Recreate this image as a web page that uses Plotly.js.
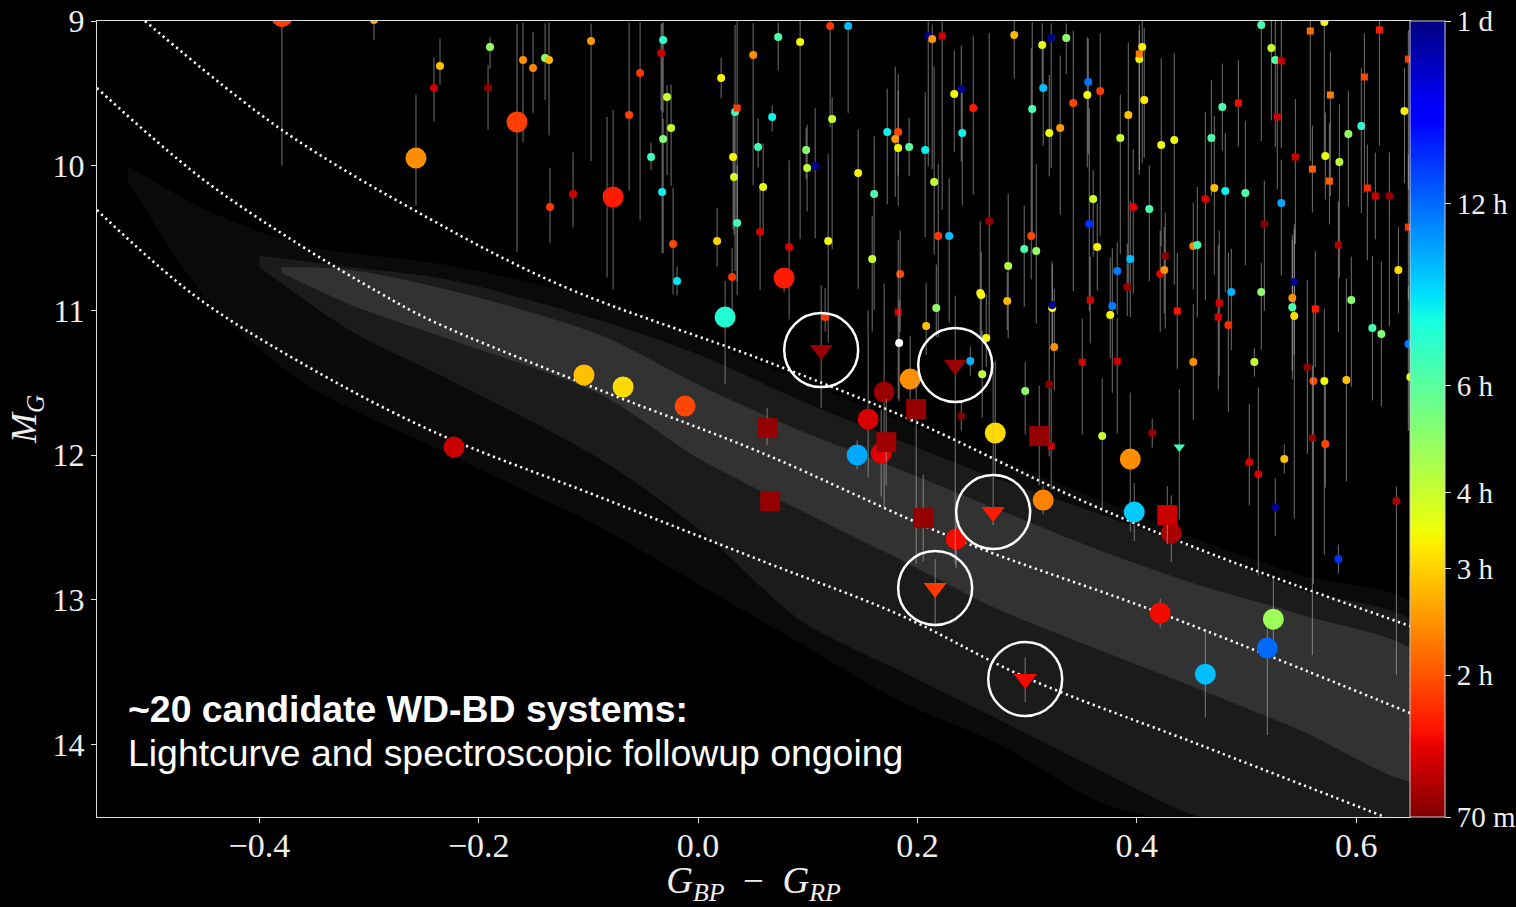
<!DOCTYPE html>
<html><head><meta charset="utf-8">
<script src="https://cdn.plot.ly/plotly-3.0.1.min.js"></script>
<style>html,body{margin:0;padding:0;background:#000;}#plot{width:1516px;height:907px;}</style>
</head><body><div id="plot"></div>
<script>
// ---------- reference curves (G_BP-G_RP, M_G) ----------
const upperX = [-0.5043,-0.3794,-0.2444,-0.1259,0.0593,0.1906,0.3529,0.4706,0.6493];
const upperY = [9.000,9.753,10.368,10.824,11.343,11.744,12.324,12.690,13.181];
const middleX = [-0.5481,-0.4542,-0.3630,-0.2900,-0.2444,-0.0894,0.0565,0.2353,0.4213,0.6493];
const middleY = [9.463,10.078,10.548,10.880,11.066,11.550,11.979,12.580,13.091,13.782];
const lowerX = [-0.5481,-0.4596,-0.3630,-0.2426,-0.0894,0.0611,0.1842,0.2982,0.4578,0.6265];
const lowerY = [10.306,10.894,11.357,11.833,12.290,12.739,13.105,13.534,14.003,14.501];

// ---------- background WD sequence density (band edges) ----------
const outerX   = [-0.52,-0.45,-0.36,-0.226,-0.089,0.002,0.093,0.184,0.275,0.367,0.458,0.549,0.66];
const outerTop = [10.00,10.30,10.55,10.69,10.93,11.20,11.48,11.76,12.03,12.31,12.59,12.83,13.07];
const outerBot = [10.10,10.90,11.50,12.00,12.50,12.90,13.30,13.70,14.00,14.40,14.55,14.55,14.55];
const midX   = [-0.40,-0.317,-0.226,-0.089,0.002,0.093,0.184,0.275,0.367,0.458,0.549,0.66];
const midTop = [10.62,10.70,10.79,11.07,11.31,11.62,11.90,12.17,12.41,12.66,12.93,13.20];
const midBot = [10.70,11.14,11.48,12.03,12.52,13.14,13.49,13.83,14.18,14.50,14.55,14.55];
const coreX   = [-0.38,-0.317,-0.226,-0.089,0.002,0.093,0.184,0.275,0.367,0.458,0.549,0.66];
const coreTop = [10.70,10.72,10.86,11.17,11.52,11.83,12.10,12.38,12.66,12.90,13.10,13.40];
const coreBot = [10.74,10.96,11.20,11.58,12.03,12.38,12.72,13.07,13.35,13.62,13.90,14.25];

// ---------- small circles: colour, magnitude, period (min), errors (up / down in mag) ----------
const smallX = [-0.2955,-0.2353,-0.2408,-0.1897,-0.1915,-0.1596,-0.1505,-0.1395,-0.1359,-0.0976,-0.0319,-0.0337,-0.0529,-0.0283,-0.0246,-0.0319,-0.0429,-0.0629,-0.1140,-0.1350,-0.0830,-0.0328,-0.0228,-0.0192,0.0210,0.0337,0.0502,0.0319,0.0328,0.0356,0.0565,0.0173,0.0310,0.0547,0.0593,
0.1204,0.1368,0.0730,0.0930,0.2098,0.2134,0.2882,0.3219,0.3137,0.3356,0.2399,0.2335,0.2508,0.3146,0.3557,0.3548,0.3420,0.3046,0.3201,0.3301,0.0675,0.1222,0.1724,0.1824,0.1797,0.1824,0.1924,0.2070,0.2408,0.0985,0.0994,0.1067,0.1459,0.1605,0.2152,0.2654,0.2189,0.2289,0.0830,0.1186,0.2973,0.3083,0.3037,0.3566,0.2827,0.1587,0.1842,0.2572,0.3602,
0.5134,0.5709,0.4049,0.4022,0.5226,0.5262,0.3666,0.4067,0.3922,0.4779,0.6439,0.3849,0.4222,0.4341,0.4679,0.6046,0.5928,0.5718,0.5846,0.4706,0.4806,0.4989,0.4624,0.5317,0.6302,0.3967,0.4113,0.3639,0.3940,0.4514,0.4551,0.3821,0.4213,0.4250,0.3912,0.5435,0.4861,0.5134,0.6384,
0.1158,0.2171,0.2079,0.2581,0.2818,0.3228,0.3228,0.2627,0.3247,0.2982,0.2481,0.2590,
0.3757,0.3776,0.4834,0.5417,0.5417,0.5435,0.5955,0.6147,0.6229,0.6475,0.6493,0.4514,0.5071,0.5609,0.5709,0.5910,0.4140,0.3684,0.5718,0.5025,0.5107,0.5344,0.5262,0.6366,0.5837];
const smallY = [8.993,9.311,9.463,9.180,9.463,9.270,9.325,9.256,9.270,9.138,9.131,9.221,9.359,9.525,9.739,9.815,9.940,9.650,10.196,10.285,10.202,10.182,10.541,10.797,9.394,9.629,9.235,9.940,10.078,10.396,10.458,10.520,10.769,9.871,10.147,
9.035,9.035,9.111,9.145,9.104,9.124,9.097,9.117,9.166,9.117,9.470,9.504,9.601,9.463,9.422,9.511,9.567,9.608,9.774,9.739,9.663,9.677,9.767,9.767,9.815,9.878,9.871,9.892,9.774,9.892,10.016,10.002,10.050,10.196,10.113,10.382,10.486,10.486,10.562,10.520,10.576,10.589,10.486,10.403,10.693,10.645,10.748,10.880,10.230,
9.028,9.007,9.180,9.263,9.187,9.270,9.484,9.546,9.650,9.594,9.622,9.809,9.857,9.822,9.809,9.726,9.781,9.933,9.974,10.154,10.175,10.189,10.230,10.258,10.209,10.285,10.299,10.562,10.645,10.555,10.548,10.728,10.748,10.721,10.838,10.804,10.873,10.873,10.721,
11.046,10.983,11.108,10.894,10.935,10.983,10.963,11.191,11.253,11.557,11.350,11.440,
11.032,10.970,11.101,10.914,10.977,11.039,10.928,11.122,11.163,11.232,11.460,11.357,11.357,11.488,11.488,11.481,11.847,11.868,11.923,12.048,12.131,12.027,12.359,12.317,12.718];
const smallP = [160,170,85,290,72,145,140,300,165,150,420,85,110,240,240,310,400,112,85,110,230,480,115,500,200,400,145,205,225,410,88,180,110,390,210,
110,560,380,205,1400,150,165,1400,215,300,1400,205,100,560,700,205,115,380,210,150,480,240,480,115,150,205,360,480,480,300,250,1400,200,380,245,73,110,560,88,205,380,290,115,850,260,245,115,200,235,
380,205,200,205,240,370,110,195,170,380,200,240,210,205,380,430,290,215,250,170,480,380,88,600,74,90,380,200,560,140,390,680,90,145,74,1400,580,300,185,
110,290,170,205,165,205,1400,205,145,300,580,245,
205,680,105,145,380,185,300,390,310,680,205,145,245,118,210,170,75,240,115,88,88,170,1400,78,850];
const smallEUp = [0,0.19,0.21,0.07,0.16,0.26,0.25,0.24,0.26,0.12,0.12,0.2,0.35,0.08,0.3,0.14,0.1,0.64,0.29,0.27,0.54,1.17,0.39,0.1,0.14,0.6,0.22,0.3,0.5,0.4,0.3,0.23,0.2,0.2,0.3,
0.05,0.03,0.1,0.15,0.1,0.1,0.1,0.1,0.15,0.1,0.3,0.3,0.5,0.3,0.3,0.4,0.5,0.6,0.4,0.5,0.08,0.15,0.3,0.4,0.5,0.4,0.2,0.4,0.3,0.15,0.3,0.4,0.3,0.4,0.8,1.3,0.5,0.4,0.6,0.6,0.3,0.6,1.3,0.8,0.5,0.3,0.3,0.5,0.2,
0.05,0.05,0.2,0.2,0.2,0.3,0.4,0.5,0.5,0.3,0.3,0.3,0.6,0.6,0.4,0.4,0.3,0.3,0.4,0.5,0.4,0.5,0.6,0.3,0.3,0.4,0.3,0.3,0.4,0.3,0.4,0.2,0.3,0.3,0.3,0.4,0.3,0.2,0.3,
0.2,0.3,0.3,0.3,0.2,0.3,0.3,0.3,0.4,0.2,0.1,0.3,
0.4,0.4,0.5,0.4,0.5,0.6,0.3,0.5,0.5,0.4,0.3,0.4,0.1,0.5,0.5,0.7,0.1,0.4,0.4,0.4,0.6,0.1,0.2,0.1,0.1];
const smallEDn = [0.14,0.13,0.23,0.15,0.29,0.57,0.31,0.29,0.52,0.83,0.5,0.4,1.02,0.54,0.4,0.79,0.09,0.52,0.23,0.25,0.57,0.42,0.35,0.1,0.14,1.1,0.9,0.5,0.4,0.5,0.4,0.18,0.3,0.14,0.3,
0.7,0.6,0.23,1.36,0.9,0.9,0.3,0.9,0.3,0.25,0.5,0.4,0.6,0.4,0.5,0.5,1.3,0.9,0.3,0.6,0.1,0.9,0.5,0.3,0.4,0.4,0.2,0.6,0.5,0.2,0.3,0.5,0.8,0.8,0.5,0.8,0.7,0.6,0.5,0.7,0.4,0.5,0.3,0.6,0.5,0.5,0.4,0.3,0.4,
0.8,0.9,0.8,0.8,0.5,0.6,1.0,0.4,1.2,0.3,0.5,0.8,0.7,1.0,0.4,0.6,0.5,0.3,0.8,0.6,0.7,0.5,0.7,0.5,0.9,0.6,0.5,0.3,0.4,0.3,0.5,0.3,0.4,0.3,0.2,0.5,0.4,0.4,0.3,
0.1,0.2,0.2,0.3,0.2,0.3,0.3,0.2,0.3,0.3,0.1,0.3,
0.3,0.6,0.6,0.5,0.5,1.4,0.6,0.5,0.5,0.6,0.3,0.4,0.1,1.4,1.2,0.7,0.1,0.5,0.3,0.3,0.7,0.1,0.2,1.2,0.1];

// ---------- small squares ----------
const sqX = [0.0356,0.2225,0.5581,0.6211,0.4022,0.5317,0.6475,0.4925,0.5764,0.6074,0.5280,0.5445,0.5600,0.5755,0.6101,0.6174,0.5162,0.5837,0.6475,0.4259,0.1824,0.3575,0.3502,0.3201,0.2399,0.3219,0.4368,0.4751,0.4742,0.5627,0.3821,0.5554,0.5600];
const sqY = [9.601,9.104,9.069,9.062,9.228,9.276,9.263,9.567,9.511,9.387,9.663,9.940,10.023,10.106,10.154,10.209,10.403,10.548,10.424,10.624,11.011,10.928,11.357,11.509,11.730,11.937,11.004,10.949,11.046,10.990,11.350,11.391,11.882];
const sqP = [110,88,130,100,135,85,110,95,135,115,85,85,125,125,105,85,72,80,110,72,88,88,88,72,72,85,98,88,88,100,85,72,74];
const sqEUp = [0.6,0.1,0.1,0.1,0.2,0.3,0.2,0.3,0.3,0.3,0.4,0.4,0.3,0.4,0.3,0.3,0.3,0.3,0.5,0.3,0.5,0.3,0.3,0.5,0.1,0.4,0.4,0.5,0.5,0.4,0.3,0.6,0.5];
const sqEDn = [1.2,1.2,0.9,0.8,0.8,0.6,0.9,0.3,0.7,0.8,0.5,0.6,0.3,0.3,0.5,0.3,0.6,0.6,0.5,0.5,0.6,0.3,0.5,0.5,0.1,0.3,0.4,0.5,0.5,0.4,0.5,0.6,1.5];

// ---------- large circles (candidates) ----------
const bigX = [-0.3794,-0.2572,-0.1651,-0.0775,0.0784,0.0246,-0.2225,-0.1040,-0.0684,-0.0119,0.1696,0.1933,0.1550,0.1669,0.1450,0.2709,0.3146,0.2353,0.3940,0.3976,0.4314,0.4213,0.5244,0.5189,0.4624];
const bigY = [8.97,9.947,9.698,10.216,10.776,11.046,11.944,11.446,11.529,11.661,11.564,11.474,11.751,11.986,11.999,11.847,12.310,12.580,12.027,12.393,12.538,13.091,13.133,13.333,13.513];
const bigP = [112,145,112,100,100,440,85,170,185,115,75,145,88,90,600,185,140,95,145,540,78,95,280,720,560];
const bigEUp = [0,0.44,0.68,0.6,0.05,0.25,0.05,0,0,0,0.75,0.3,0.75,0.3,0.1,0.5,0.1,0.1,0.46,0.2,0.26,0.1,0.3,0.2,0.3];
const bigEDn = [1.03,0.33,0.9,0.64,0.1,0.46,0.05,0,0,0,0.8,0.3,0.4,0.3,0.1,0.3,0.1,0.2,0.5,0.2,0.2,0.1,0.2,0.6,0.3];

// ---------- large squares ----------
const bsqX = [0.0629,0.0657,0.1988,0.1715,0.2052,0.3110,0.4277];
const bsqY = [11.813,12.317,11.681,11.910,12.435,11.868,12.414];
const bsqP = [74,74,74,76,74,74,85];
const bsqEUp = [0.14,0,0.2,0.3,0.3,0.35,0.2];
const bsqEDn = [0.12,0.05,1.07,0.3,0.3,0.34,0.2];

// ---------- highlighted triangles ----------
const triX = [0.1122,0.2344,0.2690,0.2161,0.2982];
const triY = [11.274,11.377,12.393,12.918,13.547];
const triP = [75,75,100,110,95];
const triEUp = [0.45,0.48,1.04,0.2,0.15];
const triEDn = [0.4,1.38,0.09,0.27,0.16];

// ---------- odd ones ----------
const smTriX = [0.4387], smTriY = [11.944], smTriP = [400];
const whiteX = [0.1833], whiteY = [11.225];

// ---------- colour bar ----------
const cbPeriods = [70,120,180,240,360,720,1440];
const cbLabels = ['70 m','2 h','3 h','4 h','6 h','12 h','1 d'];
const PMIN = 70, PMAX = 1440;

// matplotlib jet, reversed (short period = dark red)
const jetR = [[0,'rgb(128,0,0)'],[0.09,'rgb(232,0,0)'],[0.11,'rgb(255,19,0)'],[0.34,'rgb(255,236,0)'],[0.35,'rgb(247,245,0)'],[0.36,'rgb(239,255,8)'],[0.625,'rgb(21,255,226)'],[0.65,'rgb(0,230,247)'],[0.66,'rgb(0,219,255)'],[0.875,'rgb(0,0,255)'],[0.89,'rgb(0,0,255)'],[1,'rgb(0,0,128)']];
const lg = a => a.map(v => Math.log10(v));

function errs(up, dn){
  return {type:'data', symmetric:false, array:dn, arrayminus:up, color:'rgba(185,185,185,0.6)', thickness:1, width:0};
}
function mk(size, symbol, periods, extra){
  return Object.assign({size:size, symbol:symbol, color:lg(periods), colorscale:jetR,
    cmin:Math.log10(PMIN), cmax:Math.log10(PMAX), line:{width:0}}, extra||{});
}
function band(xs, top, bot, alpha){
  return {x: xs.concat(xs.slice().reverse()), y: top.concat(bot.slice().reverse()),
    type:'scatter', mode:'lines', fill:'toself', fillcolor:'rgba(255,255,255,'+alpha+')',
    line:{width:0, shape:'spline', smoothing:0.8}, hoverinfo:'skip', showlegend:false};
}
function curve(xs, ys){
  return {x:xs, y:ys, type:'scatter', mode:'lines', line:{color:'#ffffff', width:2.6, dash:'2.2px,3.6px', shape:'spline'}, hoverinfo:'skip', showlegend:false};
}

const traces = [
  band(outerX, outerTop, outerBot, 0.04),
  band(midX, midTop, midBot, 0.07),
  band(coreX, coreTop, coreBot, 0.10),
  curve(upperX, upperY), curve(middleX, middleY), curve(lowerX, lowerY),
  {x:smallX, y:smallY, type:'scatter', mode:'markers', error_y:errs(smallEUp, smallEDn),
   marker:mk(8,'circle',smallP,{showscale:true, colorbar:{
     x:1, xanchor:'left', xpad:0, y:0.5, yanchor:'middle', ypad:0, len:1, lenmode:'fraction',
     thickness:35, outlinecolor:'#cccccc', outlinewidth:1,
     tickvals:lg(cbPeriods), ticktext:cbLabels, ticks:'outside', ticklen:6, tickcolor:'#dddddd',
     tickfont:{family:'Liberation Serif, DejaVu Serif, serif', size:29, color:'#eeeeee'}}})},
  {x:sqX, y:sqY, type:'scatter', mode:'markers', error_y:errs(sqEUp, sqEDn), marker:mk(7,'square',sqP)},
  {x:smTriX, y:smTriY, type:'scatter', mode:'markers', error_y:errs([0.4],[0.5]), marker:mk(10,'triangle-down',smTriP)},
  {x:whiteX, y:whiteY, type:'scatter', mode:'markers', error_y:errs([0.3],[0.4]), marker:{size:8, color:'#ffffff', line:{width:0}}},
  {x:bigX, y:bigY, type:'scatter', mode:'markers', error_y:errs(bigEUp, bigEDn), marker:mk(21,'circle',bigP)},
  {x:bsqX, y:bsqY, type:'scatter', mode:'markers', error_y:errs(bsqEUp, bsqEDn), marker:mk(20,'square',bsqP)},
  {x:triX, y:triY, type:'scatter', mode:'markers', error_y:errs(triEUp, triEDn), marker:mk(20,'triangle-down',triP)},
  {x:triX, y:triY, type:'scatter', mode:'markers', marker:{symbol:'circle-open', size:74, color:'#ffffff', line:{width:2.5, color:'#ffffff'}}}
];
traces.forEach(t => { if (t.showlegend === undefined) t.showlegend = false; t.hoverinfo = 'skip'; });

const layout = {
  width:1516, height:907,
  paper_bgcolor:'#000000', plot_bgcolor:'#000000',
  margin:{l:97, r:106, t:21, b:90, autoexpand:false},
  showlegend:false,
  xaxis:{range:[-0.548,0.649], tickvals:[-0.4,-0.2,0,0.2,0.4,0.6], tickformat:'.1f',
    ticks:'outside', ticklen:5, tickcolor:'#dddddd', showline:true, linecolor:'#dddddd', linewidth:1.2, mirror:true,
    showgrid:false, zeroline:false, tickfont:{family:'Liberation Serif, DejaVu Serif, serif', size:34, color:'#eeeeee'}, ticklabelstandoff:-7,
    title:{text:'<i>G</i><sub><i>BP</i></sub>&nbsp;&nbsp;−&nbsp;&nbsp;<i>G</i><sub><i>RP</i></sub>', standoff:4,
      font:{family:'Liberation Serif, DejaVu Serif, serif', size:37, color:'#eeeeee'}}},
  yaxis:{range:[14.5,9], tickvals:[9,10,11,12,13,14],
    ticks:'outside', ticklen:5, tickcolor:'#dddddd', showline:true, linecolor:'#dddddd', linewidth:1.2, mirror:true,
    showgrid:false, zeroline:false, tickfont:{family:'Liberation Serif, DejaVu Serif, serif', size:32, color:'#eeeeee'},
    title:{text:'<i>M</i><sub><i>G</i></sub>', standoff:4,
      font:{family:'Liberation Serif, DejaVu Serif, serif', size:36, color:'#eeeeee'}}},
  annotations:[
   {xref:'paper', yref:'paper', x:0.022, y:0.1357, xanchor:'left', yanchor:'middle', align:'left', showarrow:false,
    text:'<b>~20 candidate WD-BD systems:</b>',
    font:{family:'Liberation Sans, Arial, sans-serif', size:37.4, color:'#ffffff'}},
   {xref:'paper', yref:'paper', x:0.022, y:0.0804, xanchor:'left', yanchor:'middle', align:'left', showarrow:false,
    text:'Lightcurve and spectroscopic followup ongoing',
    font:{family:'Liberation Sans, Arial, sans-serif', size:37.4, color:'#ffffff'}}]
};
Plotly.newPlot('plot', traces, layout, {staticPlot:true, displayModeBar:false});
</script></body></html>
